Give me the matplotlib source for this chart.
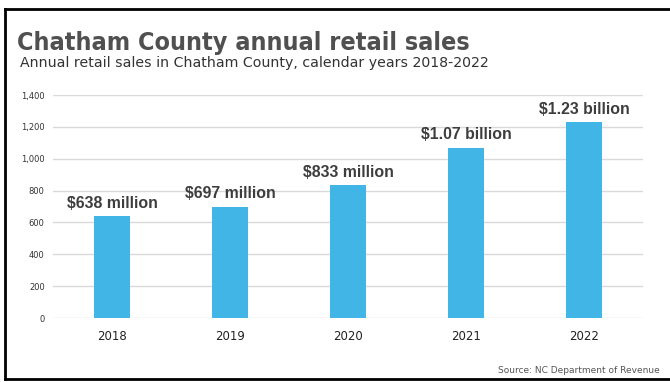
import matplotlib
matplotlib.use("Agg")
import matplotlib.pyplot as plt
from matplotlib.lines import Line2D

years = ["2018", "2019", "2020", "2021", "2022"]
sales = [638, 697, 833, 1070, 1230]
labels = ["$638 million", "$697 million", "$833 million", "$1.07 billion", "$1.23 billion"]
yticks = [0, 200, 400, 600, 800, 1000, 1200, 1400]

W, H = 670, 382
fig = plt.figure(figsize=(W / 100, H / 100), dpi=100)
ax = fig.add_axes([53 / W, 1 - 318 / H, 590 / W, 223 / H])

ax.bar(range(len(years)), sales, width=0.31, color="#41b6e6", zorder=2)
for i, (v, lab) in enumerate(zip(sales, labels)):
    ax.text(i, v + 35, lab, ha="center", va="bottom", fontsize=11.4,
            family=["Liberation Sans", "DejaVu Sans"],
            fontweight="bold", color="#3d3d3d", clip_on=False)

ax.set_xlim(-0.5, len(years) - 0.5)
ax.set_ylim(0, 1400)
ax.set_yticks(yticks)
ax.set_yticklabels([f"{t:,}" for t in yticks], fontsize=6, color="#333333")
ax.set_xticks(range(len(years)))
ax.set_xticklabels(years, fontsize=8.5, color="#222222")
ax.tick_params(length=0)
ax.tick_params(axis="y", pad=6)
ax.tick_params(axis="x", pad=9)
ax.grid(axis="y", color="#d9d9d9", linewidth=1, zorder=0)
for s in ax.spines.values():
    s.set_visible(False)

fig.text(17 / W, 1 - 50 / H, "Chatham County annual retail sales",
         family=["DejaVu Sans Condensed", "Liberation Sans Narrow", "DejaVu Sans"],
         fontweight="bold", fontstretch="condensed",
         fontsize=18, color="#505050")
fig.text(20 / W, 1 - 67 / H, "Annual retail sales in Chatham County, calendar years 2018-2022",
         fontsize=10.2, color="#333333")
fig.text(660 / W, 1 - 373 / H, "Source: NC Department of Revenue",
         ha="right", fontsize=6.5, color="#555555")

# border lines (left, top, bottom)
fig.add_artist(Line2D([5 / W, 5 / W], [1 - 9 / H, 1 - 379 / H], color="black", lw=2))
fig.add_artist(Line2D([5 / W, 1], [1 - 9 / H, 1 - 9 / H], color="black", lw=2))
fig.add_artist(Line2D([5 / W, 1], [1 - 379 / H, 1 - 379 / H], color="black", lw=2))

fig.savefig("out.png", dpi=100)
